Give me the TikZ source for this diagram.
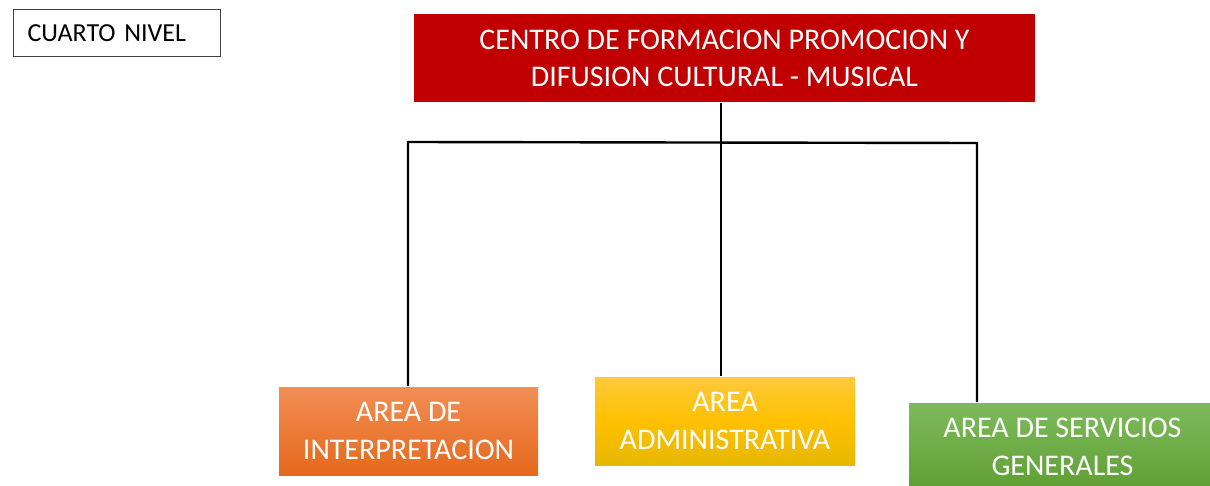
\documentclass[tikz,border=0pt]{standalone}
\usepackage{fontspec}
\setmainfont{Carlito}
\usetikzlibrary{calc}

\definecolor{rojo}{HTML}{C00000}
\definecolor{naranjaA}{HTML}{F28E55}
\definecolor{naranjaB}{HTML}{E5681B}
\definecolor{amarilloA}{HTML}{FFC93C}
\definecolor{amarilloM}{HTML}{FFC000}
\definecolor{amarilloB}{HTML}{E6B800}
\definecolor{verdeA}{HTML}{7EBA5C}
\definecolor{verdeB}{HTML}{5E9F33}

\begin{document}
\begin{tikzpicture}[x=1pt,y=1pt,line width=2.4pt,
  area/.style={inner sep=0pt,minimum height=88pt,text=white,align=center,font=\fontsize{30}{38}\selectfont}]
\useasboundingbox (0,0) rectangle (1210,485);
% ---------- nivel ----------
\node[draw=black!75,line width=1.2pt,anchor=north west,inner xsep=14pt,inner ysep=0pt,
  minimum height=47pt,text width=179pt,align=left,font=\fontsize{26}{30}\selectfont]
  (nivel) at (13,476) {CUARTO NIVEL};
% ---------- cajas ----------
\node[area,fill=rojo,minimum width=621pt,font=\fontsize{30}{37}\selectfont]
  (centro) at (724.5,427) {CENTRO DE FORMACION PROMOCION Y\\DIFUSION CULTURAL - MUSICAL};
\node[area,top color=naranjaA,bottom color=naranjaB,minimum width=259pt]
  (interp) at (408.5,54) {AREA DE\\INTERPRETACION};
\node[area,top color=amarilloA,bottom color=amarilloB,middle color=amarilloM,minimum width=260pt]
  (admin) at (725,64) {AREA\\ADMINISTRATIVA};
\node[area,top color=verdeA,bottom color=verdeB,minimum width=307pt]
  (servicios) at (1062.5,38) {AREA DE SERVICIOS\\GENERALES};
% ---------- conectores ----------
\coordinate (busl) at (408,343);
\coordinate (busr) at (977,342);
\draw (interp.north -| busl) -- (busl) -- (busr) -- (servicios.north -| busr);
\draw ([xshift=-3.5pt]centro.south) -- ([xshift=-3.5pt]centro.south |- admin.north);
\end{tikzpicture}
\end{document}
